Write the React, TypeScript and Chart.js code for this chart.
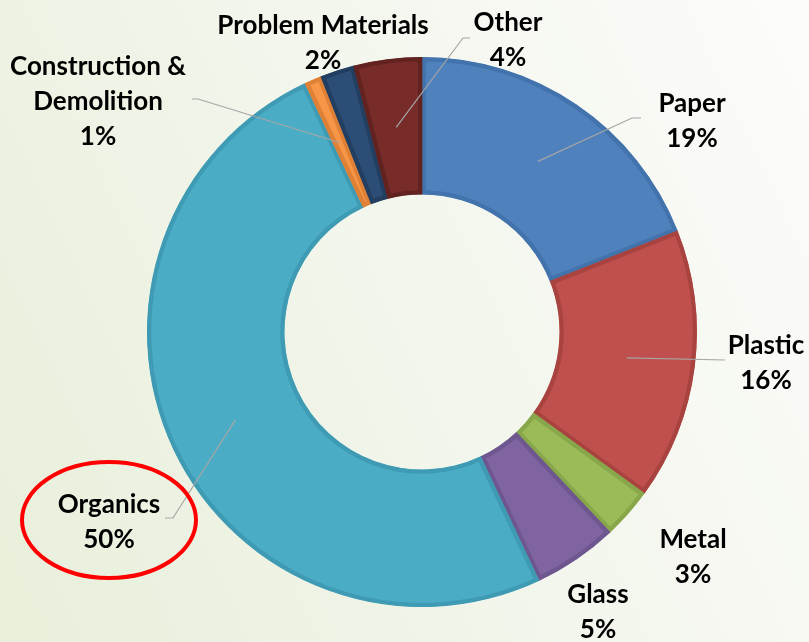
import React, { useEffect, useRef } from "react";
import { Chart, registerables } from "chart.js";

Chart.register(...registerables);

const categories = ["Paper", "Plastic", "Metal", "Glass", "Organics", "Construction &\nDemolition", "Problem Materials", "Other"];
const values = [19, 16, 3, 5, 50, 1, 2, 4];
const fillColors = ["#4F81BD", "#C0504D", "#9BBB59", "#8064A2", "#4BACC6", "#F79646", "#2C4D75", "#772C2A"];
const borderColors = ["#4373AC", "#A9433F", "#88A74B", "#6E568E", "#3F9BB4", "#DE8035", "#223E60", "#62221F"];

// label layout: text centre, optional elbow + end of leader line
const labelLayout = [
  { x: 692, y: 121, elbow: [632, 118], end: [641, 118] },
  { x: 766, y: 363, elbow: [725, 360], end: null },
  { x: 693, y: 557, elbow: null, end: null },
  { x: 598, y: 612, elbow: null, end: null },
  { x: 109, y: 522, elbow: [173, 518], end: [165, 518] },
  { x: 98, y: 102, elbow: [198, 99], end: [192, 99] },
  { x: 323, y: 43, elbow: null, end: null },
  { x: 508, y: 40, elbow: [463, 38], end: [470, 38] },
];

const highlightIndex = 4;

const FONT = "bold 26px Lato, 'Open Sans', sans-serif";
const LINE_H = 35;

const labelPlugin = {
  id: "labels",
  afterDatasetsDraw(chart: any) {
    const ctx = chart.ctx;
    const meta = chart.getDatasetMeta(0);
    ctx.save();
    // leader lines
    ctx.strokeStyle = "#A6A6A6";
    ctx.lineWidth = 1.2;
    meta.data.forEach((arc: any, i: number) => {
      const lay = labelLayout[i];
      if (!lay.elbow) return;
      const p = arc.getCenterPoint();
      ctx.beginPath();
      ctx.moveTo(p.x, p.y);
      ctx.lineTo(lay.elbow[0], lay.elbow[1]);
      if (lay.end) ctx.lineTo(lay.end[0], lay.end[1]);
      ctx.stroke();
    });
    // text
    ctx.fillStyle = "#000000";
    ctx.font = FONT;
    ctx.textAlign = "center";
    ctx.textBaseline = "middle";
    categories.forEach((c, i) => {
      const lines = c.split("\n").concat([values[i] + "%"]);
      const lay = labelLayout[i];
      const top = lay.y - ((lines.length - 1) * LINE_H) / 2;
      lines.forEach((t, k) => ctx.fillText(t, lay.x, top + k * LINE_H));
    });
    // highlight ellipse
    const h = labelLayout[highlightIndex];
    ctx.strokeStyle = "#FF0000";
    ctx.lineWidth = 4;
    ctx.beginPath();
    ctx.ellipse(h.x, h.y - 2, 87, 58, 0, 0, Math.PI * 2);
    ctx.stroke();
    ctx.restore();
  },
};

export default function App() {
  const ref = useRef<HTMLCanvasElement>(null);
  useEffect(() => {
    const chart = new Chart(ref.current!, {
      type: "doughnut",
      data: {
        labels: categories,
        datasets: [
          {
            data: values,
            backgroundColor: fillColors,
            borderColor: borderColors,
            borderWidth: 4,
            borderAlign: "inner",
            hoverOffset: 0,
          } as any,
        ],
      },
      options: {
        animation: false,
        responsive: false,
        cutout: "50%",
        layout: { padding: { left: 147, right: 112, top: 57, bottom: 35 } },
        events: [],
        plugins: { legend: { display: false }, tooltip: { enabled: false } },
      },
      plugins: [labelPlugin],
    });
    return () => chart.destroy();
  }, []);
  return (
    <div
      style={{
        position: "fixed",
        left: 0,
        top: 0,
        width: 809,
        height: 642,
        background: "linear-gradient(65deg, #E8EFDA 0%, #F1F5EA 45%, #FCFCFA 100%)",
      }}
    >
      <canvas ref={ref} width={809} height={642} style={{ display: "block" }} />
    </div>
  );
}
